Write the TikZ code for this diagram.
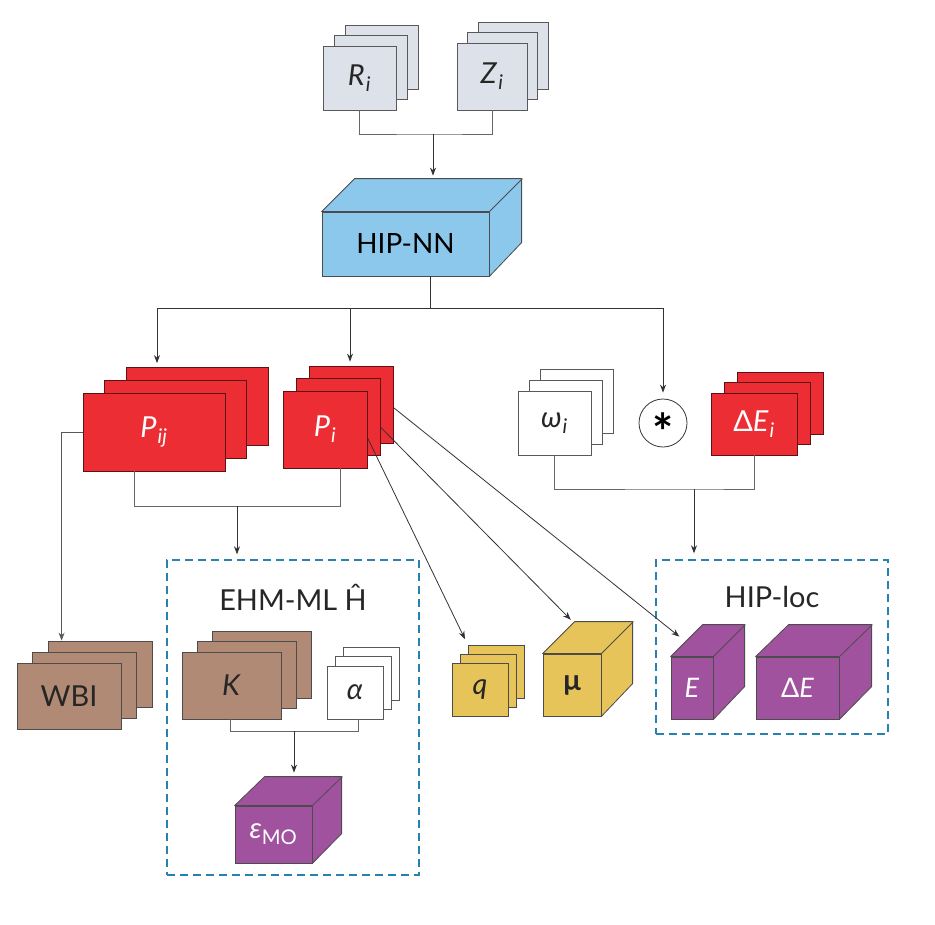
\documentclass[tikz,border=0pt]{standalone}
\usepackage{fontspec}
\setmainfont{Lato}
\usetikzlibrary{arrows.meta}

\definecolor{slate}{RGB}{221,226,234}
\definecolor{hipblue}{RGB}{140,200,236}
\definecolor{pred}{RGB}{236,45,52}
\definecolor{tan}{RGB}{176,138,116}
\definecolor{gold}{RGB}{230,196,90}
\definecolor{plum}{RGB}{160,82,158}
\definecolor{dash}{RGB}{40,130,175}

\begin{document}
\begin{tikzpicture}[x=1bp, y=-1bp, line width=0.8bp, >={Stealth[length=8bp, width=6bp]},
    sz/.style 2 args = {minimum width=#1bp, minimum height=#2bp},
    card/.style = {draw=black!65, inner sep=0pt, font=\fontsize{29}{34}\selectfont},
    light/.style = {card, fill=slate, text=black!85},
    blank/.style = {card, fill=white, text=black!85},
    redc/.style = {card, fill=pred, draw=black!60!pred, text=white},
    brown/.style = {card, fill=tan, draw=black!70, text=black!85},
    yel/.style = {card, fill=gold, draw=black!70, text=black!85},
    cube/.style = {draw=black!70, line join=round},
    group/.style = {draw=dash, dashed, dash pattern=on 8bp off 5bp, line width=1.4bp, inner sep=0pt},
    title/.style = {font=\fontsize{29}{34}\selectfont, text=black!85},
    wire/.style = {draw=black!60},
    link/.style = {draw=black!80, ->}]
    \useasboundingbox (0,0) rectangle (935,925);

    % inputs
    \node[light, sz={73}{64}] (R3) at (381.5,57) {};
    \node[light, sz={73}{64}] (R2) at (370.5,67.5) {};
    \node[light, sz={73}{64}] (R1) at (359.5,78) {\textit{R}\kern1bp\textsubscript{\textit{i}}};
    \node[light, sz={70}{67}] (Z3) at (513,55.5) {};
    \node[light, sz={70}{67}] (Z2) at (502.5,66) {};
    \node[light, sz={70}{67}] (Z1) at (492,76.5) {\textit{Z}\kern1bp\textsubscript{\textit{i}}};

    % HIP-NN
    \node[card, fill=hipblue, draw=black!70, sz={167}{64}, font=\fontsize{28}{34}\selectfont] (hip) at (405.5,244) {HIP-NN};
    \draw[cube, fill=hipblue] (hip.north west) -- ++(33,-33) -- ++(167,0) -- ++(0,64) -- (hip.south east) -- (hip.north east) -- cycle;
    \draw[cube] (hip.north east) -- ++(33,-33);
    \coordinate (hipt) at ([shift={(0,-33)}]hip.north);

    \coordinate (j1) at (433,134);
    \draw[wire] (R1.south) |- (j1) -| (Z1.south);
    \draw[link, shorten >=3bp] (j1) -- (j1 |- hipt);

    % outputs of HIP-NN
    \node[redc, sz={142}{78}] (Pij3) at (197,406.5) {};
    \node[redc, sz={142}{78}] (Pij2) at (175.5,419.5) {};
    \node[redc, sz={142}{78}] (Pij1) at (154,432) {\textit{P}\kern1bp\textsubscript{\textit{ij}}};
    \node[redc, sz={84}{77}] (Pi3) at (351,404.5) {};
    \node[redc, sz={84}{77}] (Pi2) at (338,417) {};
    \node[redc, sz={84}{77}] (Pi1) at (325,429.5) {\textit{P}\kern1bp\textsubscript{\textit{i}}};

    \node[blank, sz={73}{64}] (om3) at (576.5,401) {};
    \node[blank, sz={73}{64}] (om2) at (565.5,412) {};
    \node[blank, sz={73}{64}] (om1) at (554.5,423) {\textit{ω}\kern1bp\textsubscript{\textit{i}}};
    \node[draw=black!80, circle, minimum size=48bp, inner sep=0pt, font=\fontsize{50}{50}\bfseries] (star) at (663,423) {\raisebox{-27bp}[0pt][0pt]{*}};
    \node[redc, sz={86}{62}] (dE3) at (780,403) {};
    \node[redc, sz={86}{62}] (dE2) at (767,413.5) {};
    \node[redc, sz={86}{62}] (dE1) at (754,424) {Δ\textit{E}\kern1bp\textsubscript{\textit{i}}};

    \coordinate (pa) at (157,308);
    \coordinate (pb) at (350,308);
    \coordinate (pc) at (663,308);
    \draw[wire, draw=black!80] (hip.south -| j1) ++(-3,0) |- (pa);
    \draw[wire, draw=black!80] (pa) -- (pc);
    \draw[link, shorten >=4bp] (pa) -- (pa |- Pij3.north);
    \draw[link, shorten >=4bp] (pb) -- (pb |- Pi3.north);
    \draw[link, shorten >=6bp] (pc) -- (star);

    % WBI
    \node[brown, sz={104}{66}] (W3) at (100,674) {};
    \node[brown, sz={104}{66}] (W2) at (84.5,685) {};
    \node[brown, sz={104}{66}] (W1) at (69,696) {WBI};
    \coordinate (win) at ([shift={(14,0)}]W3.north west);
    \draw[wire, ->, draw=black!65] (Pij1.west) -| (win);

    % EHM-ML
    \node[group, sz={252}{315}] (ehm) at (293,717.5) {};
    \node[title] (ehmt) at (293,597) {EHM-ML Ĥ};
    \node[brown, sz={99}{67}] (K3) at (262,664.5) {};
    \node[brown, sz={99}{67}] (K2) at (247,675) {};
    \node[brown, sz={99}{67}] (K1) at (231.5,685.5) {\textit{K}};
    \node[blank, sz={56}{53}] (al3) at (371,673.5) {};
    \node[blank, sz={56}{53}] (al2) at (363,683) {};
    \node[blank, sz={56}{53}] (al1) at (355,692.5) {\textit{α}};
    \node[card, fill=plum, draw=black!70, text=white, sz={77}{57}] (eps) at (273.5,834.5) {\textit{ε}\textsubscript{MO}};
    \draw[cube, fill=plum] (eps.north west) -- ++(30,-29) -- ++(77,0) -- ++(0,57) -- (eps.south east) -- (eps.north east) -- cycle;
    \draw[cube] (eps.north east) -- ++(30,-29);
    \coordinate (epst) at ([shift={(0,-29)}]eps.north);

    \coordinate (j3) at (134,506);
    \coordinate (j4) at (340,506);
    \coordinate (j5) at (237,506);
    \draw[wire] (Pij1.south -| j3) -- (j3) -- (j4) -- (Pi1.south -| j4);
    \draw[link, shorten >=5bp] (j5) -- (j5 |- ehm.north);

    \coordinate (k1) at (230,731);
    \coordinate (k2) at (358,731);
    \coordinate (k3) at (294,731);
    \draw[wire] (K1.south -| k1) -- (k1) -- (k2) -- (al1.south -| k2);
    \draw[link, shorten >=4bp] (k3) -- (k3 |- epst);

    % charges and dipole
    \node[yel, sz={56}{53}] (q3) at (496,671.5) {};
    \node[yel, sz={56}{53}] (q2) at (488,680.5) {};
    \node[yel, sz={56}{53}] (q1) at (480,689.5) {\textit{q}};
    \node[yel, sz={58}{62}] (mu) at (572,685) {\textbf{μ}};
    \draw[cube, fill=gold] (mu.north west) -- ++(32,-32) -- ++(58,0) -- ++(0,62) -- (mu.south east) -- (mu.north east) -- cycle;
    \draw[cube] (mu.north east) -- ++(32,-32);
    \coordinate (mut) at ([shift={(31,-31)}]mu.north west);

    % HIP-loc
    \node[group, sz={232}{174}] (loc) at (772,647) {};
    \node[title] (loct) at (772,597) {HIP-loc};
    \node[card, fill=plum, draw=black!70, text=white, sz={42}{62}, font=\fontsize{27}{32}\selectfont] (E) at (692,688) {\textit{E}};
    \draw[cube, fill=plum] (E.north west) -- ++(32,-32) -- ++(42,0) -- ++(0,62) -- (E.south east) -- (E.north east) -- cycle;
    \draw[cube] (E.north east) -- ++(32,-32);
    \coordinate (Et) at ([shift={(15,-15)}]E.north west);
    \node[card, fill=plum, draw=black!70, text=white, sz={83}{62}, font=\fontsize{27}{32}\selectfont] (dE) at (797.5,688) {Δ\textit{E}};
    \draw[cube, fill=plum] (dE.north west) -- ++(33,-32) -- ++(83,0) -- ++(0,62) -- (dE.south east) -- (dE.north east) -- cycle;
    \draw[cube] (dE.north east) -- ++(33,-32);

    \coordinate (j6) at (694,489);
    \draw[wire] (om1.south) |- (j6) -| (dE1.south);
    \draw[link, shorten >=6bp] (j6) -- (j6 |- loc.north);

    % atom-wise outputs
    \draw[link, shorten >=6bp] ([shift={(0,8)}]Pi1.east) -- (q3.north west);
    \draw[link, shorten >=4bp] ([shift={(0,10)}]Pi2.east) -- (mut);
    \draw[link, shorten >=8bp] ([shift={(0,3)}]Pi3.east) -- (Et);
\end{tikzpicture}
\end{document}
